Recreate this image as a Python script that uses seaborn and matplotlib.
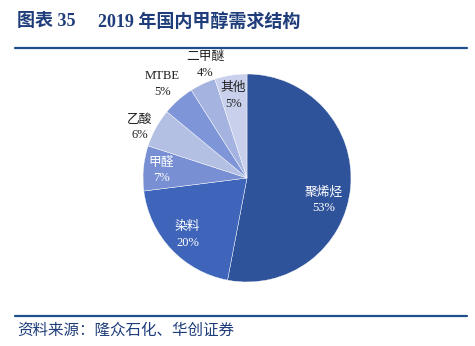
import matplotlib
matplotlib.use("Agg")
import matplotlib.pyplot as plt
import seaborn as sns
import numpy as np
from matplotlib.lines import Line2D

sns.set_theme(style="white")
plt.rcParams['font.family'] = ['Liberation Serif', 'Noto Sans CJK SC', 'DejaVu Sans']

categories = ["聚烯烃", "染料", "甲醛", "乙酸", "MTBE", "二甲醚", "其他"]
values = [53, 20, 7, 6, 5, 4, 5]
pct_labels = ["53%", "20%", "7%", "6%", "5%", "4%", "5%"]

colors = sns.color_palette(["#2F539A", "#3E65B9", "#7890D3", "#B3BFE3",
                            "#7E96D8", "#A5B3E0", "#C8D0EC"])
label_colors = ["white", "white", "white", "#222222", "#222222", "#222222", "#222222"]
label_radius = [0.77, 0.79, 0.83, 1.14, 1.22, 1.16, 0.80]
label_angle_shift = [-10.5, 0.5, 0.4, 3.5, 0.6, -5.0, 0.3]

title_color = "#1F3D7A"
W, H = 475, 346
fig = plt.figure(figsize=(W / 100, H / 100), dpi=100)

a = 1.5
R = 104
cx, cy = 247, 178
side = 2 * a * R
ax = fig.add_axes([(cx - side / 2) / W, (H - cy - side / 2) / H, side / W, side / H])
wedges, _ = ax.pie(values, colors=colors, startangle=90, counterclock=False,
                   radius=1, wedgeprops=dict(linewidth=0.3, edgecolor="white"))
ax.set_xlim(-a, a)
ax.set_ylim(-a, a)
ax.set_aspect("equal")
ax.axis("off")

for w, cat, pct, col, r, sh in zip(wedges, categories, pct_labels, label_colors,
                                   label_radius, label_angle_shift):
    mid = np.deg2rad((w.theta1 + w.theta2) / 2 + sh)
    x, y = r * np.cos(mid), r * np.sin(mid)
    ax.text(x, y + 0.075, cat, ha="center", va="center", fontsize=9.2, color=col,
            family=['Liberation Serif', 'Noto Sans CJK SC'])
    ax.text(x, y - 0.075, pct, ha="center", va="center", fontsize=9, color=col,
            family=['Liberation Serif'])

# Title
fig.text(17 / W, 1 - 22 / H, "图表 35", ha="left", va="center", fontsize=13,
         fontweight="bold", color=title_color,
         family=['Liberation Serif', 'Noto Sans CJK SC'])
fig.text(98 / W, 1 - 22 / H, "2019 年国内甲醇需求结构", ha="left", va="center",
         fontsize=13, fontweight="bold", color=title_color,
         family=['Liberation Serif', 'Noto Sans CJK SC'])

# Rules
for yy in (48, 316):
    fig.add_artist(Line2D([15 / W, 467 / W], [1 - yy / H, 1 - yy / H],
                          color="#1F4E8C", linewidth=1.6, transform=fig.transFigure))

fig.text(17 / W, 1 - 330 / H, "资料来源：隆众石化、华创证券", ha="left", va="center",
         fontsize=11.2, style="italic", color=title_color,
         family=['Noto Sans CJK SC'])

fig.savefig("out.png", dpi=100, facecolor="white")
